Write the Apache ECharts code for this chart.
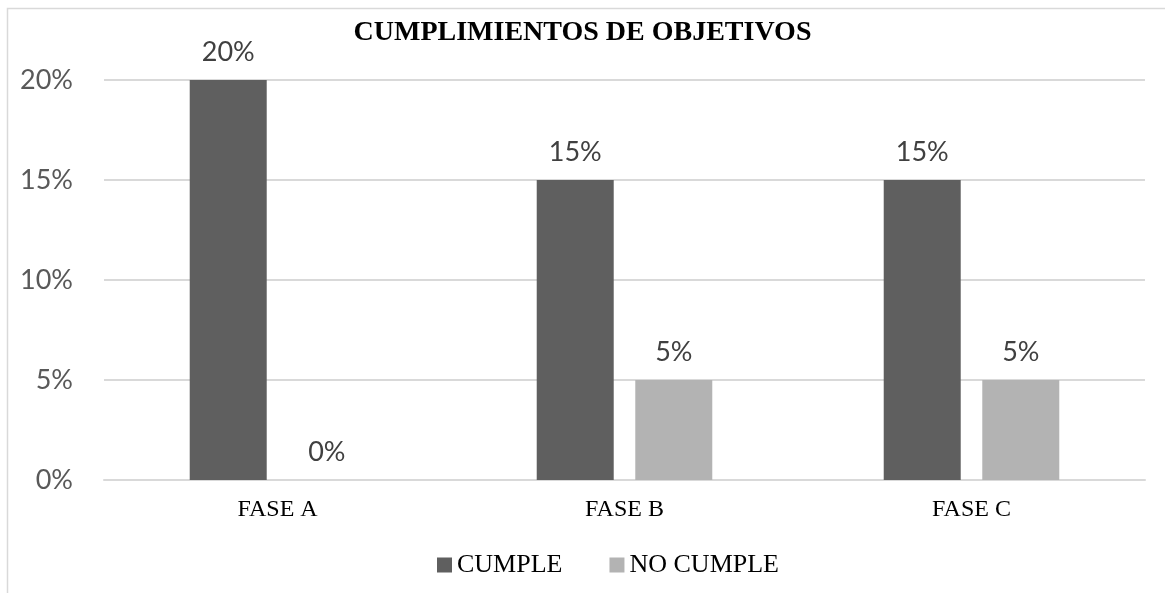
<!DOCTYPE html>
<html>
<head>
<meta charset="utf-8">
<script src="https://cdn.jsdelivr.net/npm/echarts@6/dist/echarts.min.js"></script>
<style>
  html, body { margin: 0; padding: 0; background: #fff; }
  #chart { width: 1165px; height: 593px; }
</style>
</head>
<body>
<div id="chart"></div>
<script>
// datos del gráfico
const categories = ['FASE A', 'FASE B', 'FASE C']
const cumple = [20, 15, 15]
const noCumple = [0, 5, 5]
const yTicks = [0, 5, 10, 15, 20]

const chart = echarts.init(document.getElementById('chart'))

const valueLabel = {
  show: true,
  position: 'top',
  distance: 14,
  formatter: p => p.value + '%',
  fontFamily: 'Lato',
  fontSize: 27,
  color: '#404040'
}

const option = {
  animation: false,
  backgroundColor: '#fff',
  title: {
    text: 'CUMPLIMIENTOS DE OBJETIVOS',
    left: 'center',
    top: 14,
    textStyle: {
      fontFamily: 'Liberation Serif',
      fontWeight: 'bold',
      fontSize: 28,
      color: '#000'
    }
  },
  graphic: [{
    type: 'rect',
    shape: { x: 7.5, y: 8.5, width: 1200, height: 700 },
    style: { fill: 'none', stroke: '#d9d9d9', lineWidth: 1.5 },
    silent: true
  }],
  legend: {
    data: ['CUMPLE', 'NO CUMPLE'],
    bottom: 10,
    left: 432,
    icon: 'rect',
    itemWidth: 15,
    itemHeight: 15,
    itemGap: 47,
    textStyle: {
      fontFamily: 'Liberation Serif',
      fontSize: 26,
      color: '#000'
    }
  },
  grid: {
    left: 104,
    right: 20,
    top: 80,
    bottom: 113
  },
  xAxis: {
    type: 'category',
    data: categories,
    axisLine: { lineStyle: { color: '#d9d9d9', width: 2 } },
    axisTick: { show: false },
    axisLabel: {
      margin: 18,
      fontFamily: 'Liberation Serif',
      fontSize: 24,
      color: '#000'
    }
  },
  yAxis: {
    type: 'value',
    min: yTicks[0],
    max: yTicks[yTicks.length - 1],
    interval: 5,
    axisLine: { show: false },
    axisTick: { show: false },
    splitLine: { lineStyle: { color: '#d9d9d9', width: 2 } },
    axisLabel: {
      margin: 31,
      formatter: v => v + '%',
      fontFamily: 'Lato',
      fontSize: 27,
      color: '#595959'
    }
  },
  series: [
    {
      name: 'CUMPLE',
      type: 'bar',
      data: cumple,
      barWidth: 77,
      barGap: '28%',
      itemStyle: { color: '#5f5f5f' },
      label: valueLabel
    },
    {
      name: 'NO CUMPLE',
      type: 'bar',
      data: noCumple,
      barWidth: 77,
      barGap: '28%',
      itemStyle: { color: '#b3b3b3' },
      label: valueLabel
    }
  ]
}

chart.setOption(option)
</script>
</body>
</html>
